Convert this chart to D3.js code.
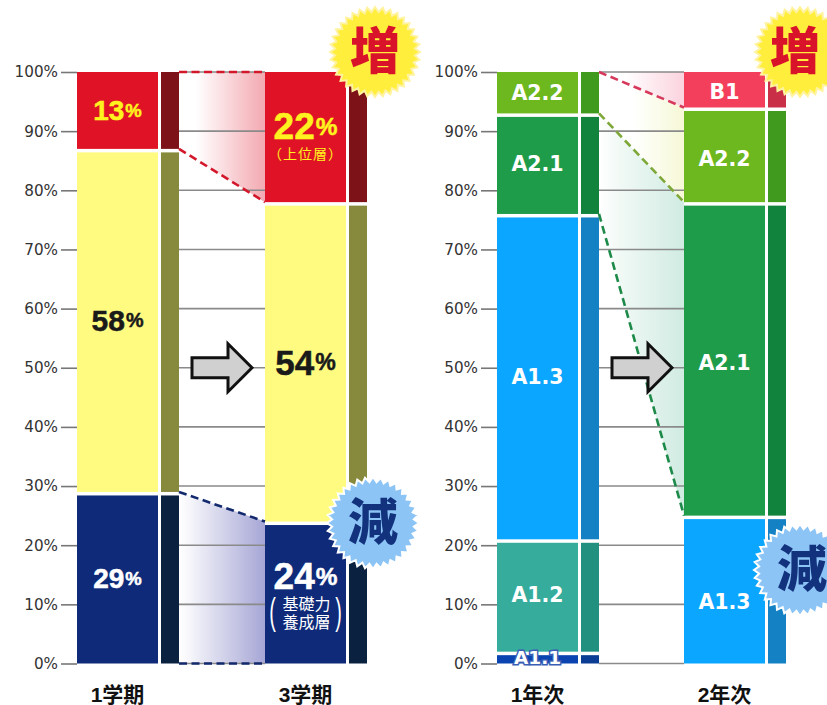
<!DOCTYPE html>
<html><head><meta charset="utf-8">
<script src="https://cdn.jsdelivr.net/npm/d3@7"></script>
<style>html,body{margin:0;padding:0;background:#fff}svg{display:block}</style>
</head><body><svg id="c" width="827" height="705"></svg>
<script>
// ---- data ----
const ticks = [0,10,20,30,40,50,60,70,80,90,100];
const termCats = ["1学期","3学期"];
const term1Values = [29,58,13];
const term3Values = [24,54,22];
const yearCats = ["1年次","2年次"];
const year1Names = ["A1.1","A1.2","A1.3","A2.1","A2.2"];
const year1Values = [2,19,55,17,7];
const year2Names = ["A1.3","A2.1","A2.2","B1"];
const year2Values = [25,53,16,6];

const termFill = ["#0e2a78","#fffb80","#df1325"];
const termSide = ["#0a2240","#878a3c","#7d1218"];
const gradeFill = {"A1.1":"#0a44b0","A1.2":"#35ac9c","A1.3":"#0aa6ff","A2.1":"#1f9c4a","A2.2":"#6db81f","B1":"#f43f5c"};
const gradeSide = {"A1.1":"#0a3d93","A1.2":"#22907f","A1.3":"#1481c4","A2.1":"#12833c","A2.2":"#3f9a1e","B1":"#c93048"};

// ---- setup ----
const svg = d3.select("#c");
const defs = svg.append("defs");
const y = d3.scaleLinear().domain([0,100]).range([663.5,72]);
const SANS = "'Liberation Sans',Arial,sans-serif", WIDE = "'DejaVu Sans',sans-serif";
const CJK = "'Liberation Sans','Noto Sans CJK JP',sans-serif";
const BW = 81, SW = 18, SIDE_GAP = 3;

function grad(id,stops){
  const g = defs.append("linearGradient").attr("id",id).attr("x1",0).attr("x2",1).attr("y1",0).attr("y2",0);
  stops.forEach(s=>g.append("stop").attr("offset",s[0]).attr("stop-color",s[1]));
  return `url(#${id})`;
}
const cum = vs => { let s=0; return vs.map(v=>{const a=s; s+=v; return [a,s];}); };

function band(g,x0,x1,a0,a1,b0,b1,fill){
  g.append("path").attr("fill",fill)
    .attr("d",`M${x0},${y(a1)}L${x1},${y(b1)}L${x1},${y(b0)}L${x0},${y(a0)}Z`);
}
function dash(g,x0,x1,a,b,color){
  g.append("line").attr("x1",x0).attr("x2",x1).attr("y1",y(a)).attr("y2",y(b))
    .attr("stroke",color).attr("stroke-width",2.6).attr("stroke-dasharray","8 4.5");
}
function stack(g,x,segs,fills,sides){
  segs.forEach((s,i)=>{
    const top = y(s[1]), h = y(s[0]) - top;
    const gapTop = i<segs.length-1 ? 3.5 : 0;
    g.append("rect").attr("x",x).attr("y",top+gapTop).attr("width",BW).attr("height",h-gapTop).attr("fill",fills[i]);
    g.append("rect").attr("x",x+BW+SIDE_GAP).attr("y",top+gapTop).attr("width",SW).attr("height",h-gapTop).attr("fill",sides[i]);
  });
}
function axis(g,axisX){
  const a = g.append("g").attr("transform",`translate(${axisX},0)`)
    .call(d3.axisLeft(y).tickValues(ticks).tickFormat(d=>d+"%").tickSize(16).tickPadding(3));
  a.select(".domain").remove();
  a.selectAll("line").attr("stroke","#777").attr("stroke-width",1.6);
  a.selectAll("text").attr("font-family",WIDE).attr("font-size",15.2).attr("fill","#333");
}
function grid(g,x0,x1){
  g.selectAll(null).data(ticks).join("line").attr("x1",x0).attr("x2",x1)
    .attr("y1",d=>y(d)).attr("y2",d=>y(d)).attr("stroke","#8a8a8a").attr("stroke-width",1.6);
}
function pct(g,cx,cy,num,size,color){
  const t = g.append("text").attr("x",cx).attr("y",cy).attr("text-anchor","middle")
    .attr("dominant-baseline","central").attr("font-family",SANS).attr("font-weight",700).attr("fill",color)
    .attr("stroke",color).attr("stroke-width",0.5).attr("font-size",size);
  t.append("tspan").text(num);
  t.append("tspan").attr("font-size",size*0.66).attr("dx",1).text("%");
}
function grade(g,cx,cy,txt,halo){
  const t = g.append("text").attr("x",cx).attr("y",cy).attr("text-anchor","middle")
    .attr("dominant-baseline","central").attr("font-family",WIDE).attr("font-weight",700).attr("fill","#fff")
    .attr("font-size",halo?18.5:20.5).text(txt);
  if(halo) t.attr("stroke","#3b5fb5").attr("stroke-width",3).attr("paint-order","stroke");
}
function cat(g,cx,txt){
  g.append("text").attr("x",cx).attr("y",694).attr("text-anchor","middle").attr("dominant-baseline","central")
    .attr("font-family",CJK).attr("font-weight",700).attr("font-size",21).attr("fill","#111").text(txt);
}
function arrow(g,x0,x1,h){
  const c = y(50), n = x1-24;
  g.append("path").attr("fill","#d0d0d0").attr("stroke","#111").attr("stroke-width",3)
    .attr("stroke-linejoin","miter")
    .attr("d",`M${x0},${c-10}L${n},${c-10}L${n},${c-h}L${x1},${c}L${n},${c+h}L${n},${c+10}L${x0},${c+10}Z`);
}
function star(g,cx,cy,r,fill,stroke,kanji,color,dx){
  const n = 36;
  const pts = d3.range(n*2).map(i=>[i*Math.PI/n, i%2? r-5 : r]);
  g.append("path").attr("transform",`translate(${cx},${cy})`)
    .attr("d",d3.lineRadial().curve(d3.curveLinearClosed)(pts))
    .attr("fill",fill).attr("stroke",stroke).attr("stroke-width",2);
  g.append("text").attr("x",cx+(dx||0)).attr("y",cy).attr("text-anchor","middle").attr("dominant-baseline","central")
    .attr("font-family",CJK).attr("font-weight",900).attr("font-size",50).attr("fill",color).text(kanji);
}

// ---- left panel ----
{
  const g = svg.append("g");
  const X1=77, X2=265, R=X1+BW+SIDE_GAP+SW;
  const a = cum(term1Values), b = cum(term3Values);
  band(g,R,X2,a[2][0],a[2][1],b[2][0],b[2][1],grad("lt",[[0,"#ffffff"],[.2,"#ffffff"],[1,"#f3a9b1"]]));
  band(g,R,X2,a[0][0],a[0][1],b[0][0],b[0][1],grad("lb",[[0,"#ffffff"],[.1,"#f8f8fc"],[1,"#a6a6d6"]]));
  grid(g,R,X2);
  axis(g,X1);
  stack(g,X1,a,termFill,termSide);
  stack(g,X2,b,termFill,termSide);
  dash(g,R,X2,a[2][1],b[2][1],"#d3182c");
  dash(g,R,X2,a[2][0],b[2][0],"#d3182c");
  dash(g,R,X2,a[0][1],b[0][1],"#12296e");
  dash(g,R,X2,a[0][0],b[0][0],"#12296e");
  arrow(g,192,252,24);

  const c1=X1+BW/2, c2=X2+BW/2;
  const mid = s => y((s[0]+s[1])/2);
  pct(g,c1,mid(a[2]),term1Values[2],28,"#fff21e");
  pct(g,c1,mid(a[1]),term1Values[1],30,"#1a1a1a");
  pct(g,c1,mid(a[0]),term1Values[0],28,"#fff");
  pct(g,c2,mid(b[2])-11,term3Values[2],37,"#fff21e");
  g.append("text").attr("x",c2).attr("y",154).attr("text-anchor","middle").attr("dominant-baseline","central")
    .attr("font-family",CJK).attr("font-size",14).attr("letter-spacing",1).attr("fill","#fff21e").text("（上位層）");
  pct(g,c2,mid(b[1]),term3Values[1],35,"#1a1a1a");
  pct(g,c2,mid(b[0])-17,term3Values[0],37,"#fff");
  ["基礎力","養成層"].forEach((t,i)=>g.append("text").attr("x",c2+1).attr("y",604+i*18.5).attr("text-anchor","middle")
    .attr("dominant-baseline","central").attr("font-family",CJK).attr("font-size",16).attr("fill","#fff").text(t));
  [["(",c2-33],[")",c2+33]].forEach(p=>g.append("text").attr("x",p[1]).attr("y",612).attr("text-anchor","middle")
    .attr("dominant-baseline","central").attr("font-family",SANS).attr("font-size",36).attr("fill","#fff")
    .attr("transform",`translate(${p[1]},0) scale(0.55,1) translate(${-p[1]},0)`).text(p[0]));
  cat(g,c1,termCats[0]); cat(g,c2,termCats[1]);
  star(g,375,52,45,"#ffee3c","#fff3a0","増","#d9142a");
  star(g,373,523,46,"#8cc4f5","#ffffff","減","#12327e");
}

// ---- right panel ----
{
  const g = svg.append("g");
  const X1=497, X2=684, R=X1+BW+SIDE_GAP+SW;
  const a = cum(year1Values), b = cum(year2Values);
  band(g,R,X2,a[4][0],a[4][1],b[3][0],b[3][1],grad("rt",[[0,"#ffffff"],[.3,"#ffffff"],[1,"#fbd3de"]]));
  band(g,R,X2,a[4][0],a[4][1],b[2][0],b[3][0],grad("rm",[[0,"#ffffff"],[.4,"#ffffff"],[1,"#f6f8d6"]]));
  band(g,R,X2,a[3][0],a[4][0],b[0][1],b[2][0],grad("rg",[[0,"#ffffff"],[.25,"#f1f9f5"],[1,"#d0ebe2"]]));
  grid(g,R,X2);
  axis(g,X1);
  stack(g,X1,a,year1Names.map(n=>gradeFill[n]),year1Names.map(n=>gradeSide[n]));
  stack(g,X2,b,year2Names.map(n=>gradeFill[n]),year2Names.map(n=>gradeSide[n]));
  dash(g,R,X2,a[4][1],b[3][0],"#d6395c");
  dash(g,R,X2,a[4][0],b[2][0],"#7fa83a");
  dash(g,R,X2,a[3][0],b[0][1],"#1e8a4a");
  arrow(g,612,672,24);

  const c1=X1+BW/2, c2=X2+BW/2;
  const mid = s => y((s[0]+s[1])/2);
  year1Names.forEach((n,i)=>grade(g,c1,i==0?y(1):mid(a[i]),n,i==0));
  const off = [12,4,4,2];
  year2Names.forEach((n,i)=>grade(g,c2,mid(b[i])+off[i],n));
  cat(g,c1,yearCats[0]); cat(g,c2,yearCats[1]);
  star(g,800,52,45,"#ffee3c","#fff3a0","増","#d9142a",-5);
  star(g,800,570,46,"#8cc4f5","#ffffff","減","#12327e",2);
}
</script></body></html>
